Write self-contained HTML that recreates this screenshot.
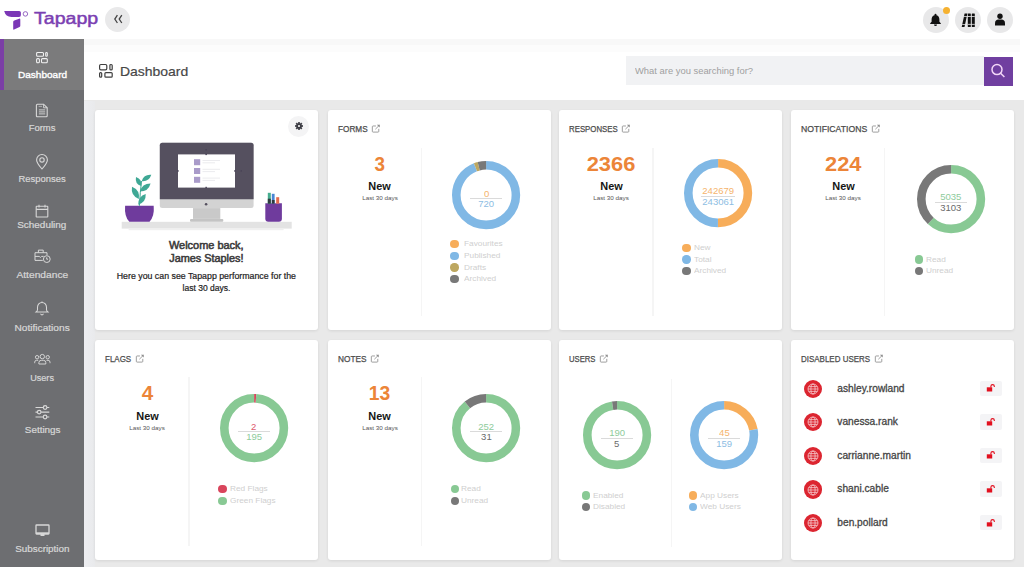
<!DOCTYPE html><html><head><meta charset="utf-8"><style>
html,body{margin:0;padding:0}
body{width:1024px;height:567px;overflow:hidden;position:relative;background:#e9e9e9;font-family:"Liberation Sans",sans-serif}
.t{position:absolute;white-space:nowrap}
.r{position:absolute}
svg.r{overflow:visible}
</style></head><body>
<div class="r" style="left:0.00px;top:0.00px;width:1024.00px;height:39.00px;background:#ffffff;"></div>
<div class="r" style="left:84.00px;top:39.00px;width:940.00px;height:61.00px;background:#ffffff;"></div>
<div class="r" style="left:84.00px;top:38.50px;width:936.00px;height:6.00px;background:#f8f8f8;"></div>
<div class="r" style="left:84.00px;top:44.50px;width:936.00px;height:7.00px;background:#fcfcfc;"></div>
<svg class="r" style="left:0px;top:0px" width="32" height="34" viewBox="0 0 32 34">
<path d="M4.2 10.9 H19.2 Q20.9 10.9 20.9 12.8 V15 Q20.9 16.9 19 16.9 H11.5 Q5.6 16.7 4.2 10.9 Z" fill="#7b37b6"/>
<path d="M14.3 20.6 L19.1 18.7 Q20.3 18.3 20.3 19.5 V25.8 Q20.3 26.7 19.5 27.1 L14.1 29.6 Q13.2 30 13.2 29 V22 Q13.2 21 14.3 20.6 Z" fill="#7b37b6"/>
<circle cx="25.4" cy="13.9" r="2.25" fill="none" stroke="#8a55bb" stroke-width="0.9"/>
</svg>
<div class="t" style="left:33.50px;top:10.66px;font-size:15.64px;line-height:15.64px;font-weight:400;color:#7b40b2;transform:scaleX(1.253);transform-origin:left 50%;-webkit-text-stroke:0.45px #7b40b2;">Tapapp</div>
<div class="r" style="left:105.2px;top:6.8px;width:24.8px;height:24.8px;border-radius:50%;background:#e9e9ea"></div>
<svg class="r" style="left:112px;top:13px" width="13" height="13" viewBox="0 0 13 13">
<path d="M5.4 2.2 L2.8 6.1 L5.4 10 M9.8 2.2 L7.2 6.1 L9.8 10" fill="none" stroke="#444" stroke-width="1.3"/></svg>
<div class="r" style="left:922.5px;top:6.7px;width:26px;height:26px;border-radius:50%;background:#e8e8e9"></div>
<div class="r" style="left:955.0px;top:6.7px;width:26px;height:26px;border-radius:50%;background:#e8e8e9"></div>
<div class="r" style="left:987.0px;top:6.7px;width:26px;height:26px;border-radius:50%;background:#e8e8e9"></div>
<svg class="r" style="left:929px;top:13px" width="13" height="13" viewBox="0 0 13 13">
<path d="M6.5 0.8 a1 1 0 0 1 1 1 v0.5 c2 0.5 2.9 2.2 2.9 4.2 v2.2 l1.4 1.6 v0.6 h-10.6 v-0.6 l1.4 -1.6 v-2.2 c0 -2 0.9 -3.7 2.9 -4.2 v-0.5 a1 1 0 0 1 1 -1z M5 11.6 h3 a1.5 1.5 0 0 1 -3 0z" fill="#111"/></svg>
<div class="r" style="left:942.5px;top:6.5px;width:7px;height:7px;border-radius:50%;background:#f5b130"></div>
<svg class="r" style="left:960.5px;top:12.8px" width="15" height="15" viewBox="0 0 15 15">
<path d="M3.6 0.5 h2.8 l-2.9 13.6 h-2.8z" fill="#111"/><rect x="6.8" y="0.5" width="3" height="13.6" rx="0.5" fill="#111"/><rect x="10.8" y="0.5" width="3" height="13.6" rx="0.5" fill="#111"/>
<rect x="6.8" y="3.0" width="7" height="0.8" fill="#e8e8e9"/><rect x="6.8" y="10.9" width="7" height="0.8" fill="#e8e8e9"/>
<path d="M1.3 10.9 h4.6 v0.8 h-4.8z M2.9 3 h4.6 v0.8 h-4.8z" fill="#e8e8e9"/></svg>
<svg class="r" style="left:994px;top:13px" width="12" height="13" viewBox="0 0 12 13">
<circle cx="6" cy="3.3" r="2.7" fill="#111"/><path d="M1 12.4 v-2.2 c0 -2.3 1.6 -3.6 3.3 -3.6 h3.4 c1.7 0 3.3 1.3 3.3 3.6 v2.2z" fill="#111"/></svg>
<div class="r" style="left:0.00px;top:39.00px;width:84.00px;height:528.00px;background:#6d6e71;"></div>
<div class="r" style="left:0.00px;top:39.00px;width:84.00px;height:51.00px;background:#7b7b7c;"></div>
<div class="r" style="left:0.00px;top:39.00px;width:4.00px;height:51.00px;background:#7b3fa6;"></div>
<div class="t" style="left:19.65px;top:70.60px;font-size:9.22px;line-height:9.22px;font-weight:400;color:#ffffff;transform:scaleX(1.089);transform-origin:center 50%;-webkit-text-stroke:0.35px #ffffff;">Dashboard</div>
<div class="t" style="left:29.14px;top:123.60px;font-size:9.22px;line-height:9.22px;font-weight:400;color:#d6d6d6;transform:scaleX(1.026);transform-origin:center 50%;-webkit-text-stroke:0.22px #d6d6d6;">Forms</div>
<div class="t" style="left:19.14px;top:175.10px;font-size:9.22px;line-height:9.22px;font-weight:400;color:#d6d6d6;transform:scaleX(1.021);transform-origin:center 50%;-webkit-text-stroke:0.22px #d6d6d6;">Responses</div>
<div class="t" style="left:19.40px;top:221.20px;font-size:9.22px;line-height:9.22px;font-weight:400;color:#d6d6d6;transform:scaleX(1.077);transform-origin:center 50%;-webkit-text-stroke:0.22px #d6d6d6;">Scheduling</div>
<div class="t" style="left:18.88px;top:271.00px;font-size:9.22px;line-height:9.22px;font-weight:400;color:#d6d6d6;transform:scaleX(1.109);transform-origin:center 50%;-webkit-text-stroke:0.22px #d6d6d6;">Attendance</div>
<div class="t" style="left:17.10px;top:324.20px;font-size:9.22px;line-height:9.22px;font-weight:400;color:#d6d6d6;transform:scaleX(1.099);transform-origin:center 50%;-webkit-text-stroke:0.22px #d6d6d6;">Notifications</div>
<div class="t" style="left:30.16px;top:374.20px;font-size:9.22px;line-height:9.22px;font-weight:400;color:#d6d6d6;transform:scaleX(0.989);transform-origin:center 50%;-webkit-text-stroke:0.22px #d6d6d6;">Users</div>
<div class="t" style="left:25.55px;top:425.70px;font-size:9.22px;line-height:9.22px;font-weight:400;color:#d6d6d6;transform:scaleX(1.072);transform-origin:center 50%;-webkit-text-stroke:0.22px #d6d6d6;">Settings</div>
<div class="t" style="left:16.84px;top:545.00px;font-size:9.22px;line-height:9.22px;font-weight:400;color:#d6d6d6;transform:scaleX(1.071);transform-origin:center 50%;-webkit-text-stroke:0.22px #d6d6d6;">Subscription</div>
<svg class="r" style="left:35px;top:51px" width="14" height="14" viewBox="0 0 14 14" fill="none" stroke="#f2f2f2" stroke-width="1.05">
<rect x="1.6" y="1.4" width="6.9" height="3.9" rx="1"/><rect x="10.7" y="1.4" width="1.6" height="3.9" rx="0.8"/>
<rect x="1.6" y="7.6" width="2.8" height="4.2" rx="1"/><rect x="6.5" y="7.6" width="5.8" height="4.2" rx="1"/></svg>
<svg class="r" style="left:35px;top:102.5px" width="14" height="15" viewBox="0 0 14 15" fill="none" stroke="#d8d8d8" stroke-width="1.1">
<path d="M2.4 1.2 H8.6 L12.2 4.8 V12.8 Q12.2 13.8 11.2 13.8 H2.4 Q1.4 13.8 1.4 12.8 V2.2 Q1.4 1.2 2.4 1.2z"/><path d="M8.6 1.4 V4.8 H12" stroke-width="0.9"/>
<path d="M3.9 6.9 H10.2 M3.9 8.9 H10.2 M3.9 10.9 H10.2" stroke-width="0.9"/><path d="M3.6 3.4 H7" stroke-width="0.6"/></svg>
<svg class="r" style="left:35px;top:153.5px" width="14" height="16" viewBox="0 0 14 16" fill="none" stroke="#d8d8d8" stroke-width="1.1">
<path d="M7 15 C4 11.5 1.6 8.6 1.6 5.9 A5.4 5.4 0 0 1 12.4 5.9 C12.4 8.6 10 11.5 7 15z"/><circle cx="7" cy="5.9" r="2.2"/></svg>
<svg class="r" style="left:35px;top:203.5px" width="14" height="14" viewBox="0 0 14 14" fill="none" stroke="#d8d8d8" stroke-width="1.1">
<rect x="1.2" y="2.2" width="11.6" height="10.8" rx="0.6"/><path d="M1.2 5.4 h11.6 M4 0.8 v2.8 M10 0.8 v2.8"/></svg>
<svg class="r" style="left:33.5px;top:248.8px" width="18" height="15" viewBox="0 0 18 15" fill="none" stroke="#d8d8d8" stroke-width="1">
<path d="M8.8 11.4 H1 V3.7 H13 V6"/><path d="M4.4 3.7 V1.1 H9.2 V3.7"/><path d="M1 7.4 H5.2 L6.4 8.4 L7.6 7.4 H9.6"/><circle cx="12.8" cy="10.1" r="3.4"/><path d="M12.7 8.4 V10.2 H14"/></svg>
<svg class="r" style="left:35px;top:300.6px" width="14" height="16" viewBox="0 0 14 16" fill="none" stroke="#d8d8d8" stroke-width="1.05">
<path d="M7 1.4 C4.3 1.4 2.5 3.5 2.5 6.3 V8.7 Q2.5 9.8 1.1 11 H12.9 Q11.5 9.8 11.5 8.7 V6.3 C11.5 3.5 9.7 1.4 7 1.4 Z"/><path d="M7 0.5 V1.4"/><path d="M5.5 12.7 Q7 15 8.5 12.7"/></svg>
<svg class="r" style="left:33.5px;top:353px" width="17" height="12" viewBox="0 0 17 12" fill="none" stroke="#d8d8d8" stroke-width="0.95">
<circle cx="8.3" cy="3.6" r="2.2"/><circle cx="3.1" cy="4.2" r="1.7"/><circle cx="13.7" cy="4.2" r="1.7"/>
<path d="M4.9 11 V9.6 Q4.9 7.3 7.3 7.3 H9.4 Q11.8 7.3 11.8 9.6 V11 Z"/><path d="M0.7 10.2 V9.2 Q0.7 7.3 2.6 7.3 H4.2 M16 10.2 V9.2 Q16 7.3 14.1 7.3 H12.5"/></svg>
<svg class="r" style="left:34.5px;top:404.5px" width="15" height="15" viewBox="0 0 15 15" fill="none" stroke="#d8d8d8" stroke-width="1.2">
<path d="M0.5 2.5 H8.2 M12 2.5 H14.3 M0.5 7.1 H2.3 M6.1 7.1 H14.3 M0.5 12 H8.2 M12 12 H14.3"/><circle cx="10.1" cy="2.5" r="1.8"/><circle cx="4.2" cy="7.1" r="1.8"/><circle cx="10.1" cy="12" r="1.8"/></svg>
<svg class="r" style="left:34.5px;top:523.5px" width="15" height="13" viewBox="0 0 15 13" fill="none">
<rect x="1" y="1" width="13" height="9" rx="0.5" stroke="#d8d8d8" stroke-width="1.3"/><rect x="5.5" y="10" width="4" height="2" fill="#d8d8d8"/><rect x="1" y="8.3" width="13" height="1.7" fill="#d8d8d8"/></svg>
<svg class="r" style="left:98px;top:63px" width="16" height="16" viewBox="0 0 16 16" fill="none" stroke="#3f3f3f" stroke-width="1.2">
<rect x="1.6" y="1.5" width="7.2" height="5.4" rx="1.3"/><rect x="11.9" y="1.5" width="2.3" height="5.4" rx="1"/>
<rect x="1.6" y="9.6" width="2.1" height="4.6" rx="0.9"/><rect x="6.9" y="9.6" width="7.3" height="4.6" rx="1"/></svg>
<div class="t" style="left:120.00px;top:65.30px;font-size:12.99px;line-height:12.99px;font-weight:400;color:#474747;transform:scaleX(1.075);transform-origin:left 50%;-webkit-text-stroke:0.2px #474747;">Dashboard</div>
<div class="r" style="left:625.80px;top:56.30px;width:358.70px;height:28.80px;background:#f1f2f4;"></div>
<div class="t" style="left:635.30px;top:66.87px;font-size:8.66px;line-height:8.66px;font-weight:400;color:#a0a0a0;transform:scaleX(1.085);transform-origin:left 50%;">What are you searching for?</div>
<div class="r" style="left:984.10px;top:56.80px;width:29.00px;height:28.80px;background:#703fa0;"></div>
<svg class="r" style="left:989px;top:62px" width="18" height="18" viewBox="0 0 18 18" fill="none" stroke="#f3d6f7" stroke-width="1.5">
<circle cx="8" cy="7.6" r="5"/><path d="M11.6 11.2 L15.4 15"/></svg>
<div class="r" style="left:84.00px;top:100.50px;width:11.00px;height:467.00px;background:linear-gradient(to right,#edeef1,#e9eaec);"></div>
<div class="r" style="left:95.0px;top:110.0px;width:223.3px;height:220.0px;background:#fff;border-radius:3px;box-shadow:0 1px 3px rgba(0,0,0,0.09)"></div>
<div class="r" style="left:327.5px;top:110.0px;width:223.3px;height:220.0px;background:#fff;border-radius:3px;box-shadow:0 1px 3px rgba(0,0,0,0.09)"></div>
<div class="r" style="left:559.0px;top:110.0px;width:223.3px;height:220.0px;background:#fff;border-radius:3px;box-shadow:0 1px 3px rgba(0,0,0,0.09)"></div>
<div class="r" style="left:790.8px;top:110.0px;width:223.3px;height:220.0px;background:#fff;border-radius:3px;box-shadow:0 1px 3px rgba(0,0,0,0.09)"></div>
<div class="r" style="left:95.0px;top:339.6px;width:223.3px;height:220.0px;background:#fff;border-radius:3px;box-shadow:0 1px 3px rgba(0,0,0,0.09)"></div>
<div class="r" style="left:327.5px;top:339.6px;width:223.3px;height:220.0px;background:#fff;border-radius:3px;box-shadow:0 1px 3px rgba(0,0,0,0.09)"></div>
<div class="r" style="left:559.0px;top:339.6px;width:223.3px;height:220.0px;background:#fff;border-radius:3px;box-shadow:0 1px 3px rgba(0,0,0,0.09)"></div>
<div class="r" style="left:790.8px;top:339.6px;width:223.3px;height:220.0px;background:#fff;border-radius:3px;box-shadow:0 1px 3px rgba(0,0,0,0.09)"></div>
<div class="r" style="left:288px;top:115.5px;width:21px;height:21px;border-radius:50%;background:#f4f4f5"></div>
<svg class="r" style="left:294.5px;top:122px" width="8" height="8" viewBox="-5 -5 10 10">
<g fill="#3a3a42"><circle r="3.2"/><rect x="-1.1" y="-4.9" width="2.2" height="2.4" transform="rotate(0)"/><rect x="-1.1" y="-4.9" width="2.2" height="2.4" transform="rotate(45)"/><rect x="-1.1" y="-4.9" width="2.2" height="2.4" transform="rotate(90)"/><rect x="-1.1" y="-4.9" width="2.2" height="2.4" transform="rotate(135)"/><rect x="-1.1" y="-4.9" width="2.2" height="2.4" transform="rotate(180)"/><rect x="-1.1" y="-4.9" width="2.2" height="2.4" transform="rotate(225)"/><rect x="-1.1" y="-4.9" width="2.2" height="2.4" transform="rotate(270)"/><rect x="-1.1" y="-4.9" width="2.2" height="2.4" transform="rotate(315)"/></g><circle r="1.4" fill="#f4f4f5"/></svg>
<svg class="r" style="left:110px;top:130px" width="200" height="110" viewBox="0 0 200 110">
<rect x="11.7" y="91.8" width="170" height="6.8" fill="#e3e3e3"/>
<rect x="18.6" y="98.6" width="155" height="1.6" fill="#f0f0f0"/>
<rect x="49.8" y="12.7" width="93.8" height="65.4" rx="2.5" fill="#d3d3d3"/>
<path d="M52.3 12.7 H141.1 A2.5 2.5 0 0 1 143.6 15.2 V69.3 H49.8 V15.2 A2.5 2.5 0 0 1 52.3 12.7z" fill="#55505f"/>
<circle cx="96.1" cy="74.2" r="1.3" fill="#55505f"/>
<rect x="83" y="78.1" width="27.3" height="10.8" fill="#c9c9c9"/>
<rect x="80" y="88.9" width="33.3" height="2.9" rx="1" fill="#c4c4c4"/>
<rect x="68" y="24.4" width="57" height="33.2" fill="#ffffff"/>
<rect x="84" y="29.2" width="6.2" height="6" fill="#a99bc9"/>
<rect x="84" y="38" width="6.2" height="6" fill="#a99bc9"/>
<rect x="84" y="46.8" width="6.2" height="6" fill="#a99bc9"/>
<path d="M92.5 30.5 H110 M92.5 32.8 H105 M92.5 39.3 H110 M92.5 41.6 H105 M92.5 48.1 H110 M92.5 50.4 H105" stroke="#e6e6ea" stroke-width="0.8"/>
<g fill="#4a4458"><rect x="95.4" y="23.6" width="1.5" height="1.5"/><rect x="95.4" y="56.8" width="1.5" height="1.5"/><rect x="67.2" y="40.2" width="1.5" height="1.5"/><rect x="124.2" y="40.2" width="1.5" height="1.5"/><rect x="95.4" y="19" width="1.5" height="1.5"/><rect x="130.5" y="40.2" width="1.5" height="1.5"/></g>
<path d="M15.1 75.8 H43.7 Q44.6 86.5 39.5 91.8 H19.3 Q14.2 86.5 15.1 75.8 Z" fill="#6f3b9d"/>
<path d="M29.4 75.8 Q30.2 62 31.5 51" stroke="#3fa895" stroke-width="1" fill="none"/>
<g fill="#3fa895">
<path transform="translate(36.5 48) rotate(-33)" d="M-5.75 0 Q0 -4.60 5.75 0 Q0 4.60 -5.75 0Z"/>
<path transform="translate(28.6 51.5) rotate(60)" d="M-5.25 0 Q0 -4.60 5.25 0 Q0 4.60 -5.25 0Z"/>
<path transform="translate(35.2 57.5) rotate(-37)" d="M-6.75 0 Q0 -5.20 6.75 0 Q0 5.20 -6.75 0Z"/>
<path transform="translate(25.4 62.8) rotate(61)" d="M-7.00 0 Q0 -5.60 7.00 0 Q0 5.60 -7.00 0Z"/>
<path transform="translate(32 69.4) rotate(-55)" d="M-6.50 0 Q0 -5.00 6.50 0 Q0 5.00 -6.50 0Z"/>
</g>
<path d="M155.3 73.2 H171.9 V88.8 Q171.9 91.8 168.9 91.8 H158.3 Q155.3 91.8 155.3 88.8z" fill="#6f3b9d"/>
<rect x="157.8" y="62.8" width="3" height="11" fill="#46ad8f"/>
<rect x="161.8" y="63.8" width="2.8" height="10" fill="#4a86d4"/>
<rect x="166.2" y="67.2" width="3" height="6.5" fill="#e46a4e"/>
<rect x="157.8" y="68.7" width="3" height="5" fill="#2e3a3f"/>
<rect x="161.8" y="70" width="2.8" height="3.7" fill="#2e3a3f"/>
</svg>
<div class="t" style="left:172.22px;top:240.69px;font-size:10.06px;line-height:10.06px;font-weight:400;color:#3a3a3a;transform:scaleX(1.091);transform-origin:center 50%;-webkit-text-stroke:0.5px #3a3a3a;">Welcome back,</div>
<div class="t" style="left:172.13px;top:254.49px;font-size:10.06px;line-height:10.06px;font-weight:400;color:#3a3a3a;transform:scaleX(1.081);transform-origin:center 50%;-webkit-text-stroke:0.5px #3a3a3a;">James Staples!</div>
<div class="t" style="left:121.10px;top:271.91px;font-size:8.38px;line-height:8.38px;font-weight:400;color:#1e1e1e;transform:scaleX(1.050);transform-origin:center 50%;-webkit-text-stroke:0.2px #1e1e1e;">Here you can see Tapapp performance for the</div>
<div class="t" style="left:183.08px;top:283.51px;font-size:8.38px;line-height:8.38px;font-weight:400;color:#1e1e1e;transform:scaleX(1.018);transform-origin:center 50%;-webkit-text-stroke:0.2px #1e1e1e;">last 30 days.</div>
<div class="t" style="left:337.50px;top:124.65px;font-size:8.80px;line-height:8.80px;font-weight:400;color:#4c4c4c;transform:scaleX(0.932);transform-origin:left 50%;-webkit-text-stroke:0.25px #4c4c4c;">FORMS</div>
<svg class="r" style="left:370.70px;top:123.70px" width="9.5" height="9" viewBox="0 0 10 10" preserveAspectRatio="none" fill="none" stroke="#8c8c8c" stroke-width="0.9">
<path d="M5.2 2.2 H2.2 Q1.4 2.2 1.4 3 V8.2 Q1.4 9 2.2 9 H7.4 Q8.2 9 8.2 8.2 V5.4"/><path d="M4.6 5.8 L8.6 1.6"/><path d="M6.2 0.9 H9.2 V3.9z" fill="#8c8c8c" stroke="none"/></svg>
<div class="t" style="left:374.15px;top:153.50px;font-size:20.67px;line-height:20.67px;font-weight:700;color:#ec8538;transform:scaleX(0.913);transform-origin:center 50%;">3</div>
<div class="t" style="left:369.27px;top:182.25px;font-size:10.34px;line-height:10.34px;font-weight:700;color:#161616;transform:scaleX(1.059);transform-origin:center 50%;">New</div>
<div class="t" style="left:362.87px;top:195.12px;font-size:6.01px;line-height:6.01px;font-weight:400;color:#555;transform:scaleX(1.048);transform-origin:center 50%;">Last 30 days</div>
<div class="r" style="left:420.80px;top:147.60px;width:1.40px;height:168.50px;background:#f5f5f5;"></div>
<svg class="r" style="left:451.10px;top:160.10px" width="70.20" height="70.20" viewBox="-35.10 -35.10 70.20 70.20"><circle r="29.800" fill="none" stroke="#80b8e5" stroke-width="8.6" stroke-dasharray="176.057 187.239" stroke-dashoffset="0.000" transform="rotate(-90)"/><circle r="29.800" fill="none" stroke="#bda760" stroke-width="8.6" stroke-dasharray="3.381 187.239" stroke-dashoffset="-176.057" transform="rotate(-90)"/><circle r="29.800" fill="none" stroke="#787878" stroke-width="8.6" stroke-dasharray="7.802 187.239" stroke-dashoffset="-179.437" transform="rotate(-90)"/></svg>
<div class="t" style="left:483.50px;top:188.58px;font-size:9.71px;line-height:9.71px;font-weight:400;color:#f5b46c;transform:scaleX(0.982);transform-origin:center 50%;">0</div>
<div class="r" style="left:470.20px;top:198.20px;width:32.00px;height:0.80px;background:#dadada;"></div>
<div class="t" style="left:478.10px;top:199.28px;font-size:9.71px;line-height:9.71px;font-weight:400;color:#8dbde3;transform:scaleX(0.982);transform-origin:center 50%;">720</div>
<div class="r" style="left:450.30px;top:240.00px;width:8.4px;height:8.4px;border-radius:50%;background:#f7ad5a"></div>
<div class="t" style="left:464.00px;top:240.38px;font-size:7.82px;line-height:7.82px;font-weight:400;color:#cfcfcf;transform:scaleX(1.060);transform-origin:left 50%;">Favourites</div>
<div class="r" style="left:450.30px;top:251.60px;width:8.4px;height:8.4px;border-radius:50%;background:#80b8e5"></div>
<div class="t" style="left:464.00px;top:251.98px;font-size:7.82px;line-height:7.82px;font-weight:400;color:#cfcfcf;transform:scaleX(1.060);transform-origin:left 50%;">Published</div>
<div class="r" style="left:450.30px;top:263.20px;width:8.4px;height:8.4px;border-radius:50%;background:#bda760"></div>
<div class="t" style="left:464.00px;top:263.58px;font-size:7.82px;line-height:7.82px;font-weight:400;color:#cfcfcf;transform:scaleX(1.060);transform-origin:left 50%;">Drafts</div>
<div class="r" style="left:450.30px;top:274.80px;width:8.4px;height:8.4px;border-radius:50%;background:#787878"></div>
<div class="t" style="left:464.00px;top:275.18px;font-size:7.82px;line-height:7.82px;font-weight:400;color:#cfcfcf;transform:scaleX(1.060);transform-origin:left 50%;">Archived</div>
<div class="t" style="left:569.00px;top:124.65px;font-size:8.80px;line-height:8.80px;font-weight:400;color:#4c4c4c;transform:scaleX(0.891);transform-origin:left 50%;-webkit-text-stroke:0.25px #4c4c4c;">RESPONSES</div>
<svg class="r" style="left:621.40px;top:123.70px" width="9.5" height="9" viewBox="0 0 10 10" preserveAspectRatio="none" fill="none" stroke="#8c8c8c" stroke-width="0.9">
<path d="M5.2 2.2 H2.2 Q1.4 2.2 1.4 3 V8.2 Q1.4 9 2.2 9 H7.4 Q8.2 9 8.2 8.2 V5.4"/><path d="M4.6 5.8 L8.6 1.6"/><path d="M6.2 0.9 H9.2 V3.9z" fill="#8c8c8c" stroke="none"/></svg>
<div class="t" style="left:588.41px;top:153.50px;font-size:20.67px;line-height:20.67px;font-weight:700;color:#ec8538;transform:scaleX(1.059);transform-origin:center 50%;">2366</div>
<div class="t" style="left:600.77px;top:182.25px;font-size:10.34px;line-height:10.34px;font-weight:700;color:#161616;transform:scaleX(1.059);transform-origin:center 50%;">New</div>
<div class="t" style="left:594.37px;top:195.12px;font-size:6.01px;line-height:6.01px;font-weight:400;color:#555;transform:scaleX(1.048);transform-origin:center 50%;">Last 30 days</div>
<div class="r" style="left:652.30px;top:147.60px;width:1.40px;height:168.50px;background:#f5f5f5;"></div>
<svg class="r" style="left:683.10px;top:157.60px" width="70.20" height="70.20" viewBox="-35.10 -35.10 70.20 70.20"><circle r="29.800" fill="none" stroke="#f7ad5a" stroke-width="8.6" stroke-dasharray="93.619 187.239" stroke-dashoffset="0.000" transform="rotate(-90)"/><circle r="29.800" fill="none" stroke="#80b8e5" stroke-width="8.6" stroke-dasharray="93.619 187.239" stroke-dashoffset="-93.619" transform="rotate(-90)"/></svg>
<div class="t" style="left:702.01px;top:186.08px;font-size:9.71px;line-height:9.71px;font-weight:400;color:#f5b46c;transform:scaleX(0.982);transform-origin:center 50%;">242679</div>
<div class="r" style="left:701.20px;top:195.70px;width:34.00px;height:0.80px;background:#dadada;"></div>
<div class="t" style="left:702.01px;top:196.78px;font-size:9.71px;line-height:9.71px;font-weight:400;color:#8dbde3;transform:scaleX(0.982);transform-origin:center 50%;">243061</div>
<div class="r" style="left:682.40px;top:243.60px;width:8.4px;height:8.4px;border-radius:50%;background:#f7ad5a"></div>
<div class="t" style="left:694.10px;top:243.98px;font-size:7.82px;line-height:7.82px;font-weight:400;color:#cfcfcf;transform:scaleX(1.060);transform-origin:left 50%;">New</div>
<div class="r" style="left:682.40px;top:255.20px;width:8.4px;height:8.4px;border-radius:50%;background:#80b8e5"></div>
<div class="t" style="left:694.10px;top:255.58px;font-size:7.82px;line-height:7.82px;font-weight:400;color:#cfcfcf;transform:scaleX(1.060);transform-origin:left 50%;">Total</div>
<div class="r" style="left:682.40px;top:266.80px;width:8.4px;height:8.4px;border-radius:50%;background:#787878"></div>
<div class="t" style="left:694.10px;top:267.18px;font-size:7.82px;line-height:7.82px;font-weight:400;color:#cfcfcf;transform:scaleX(1.060);transform-origin:left 50%;">Archived</div>
<div class="t" style="left:800.80px;top:124.65px;font-size:8.80px;line-height:8.80px;font-weight:400;color:#4c4c4c;transform:scaleX(0.984);transform-origin:left 50%;-webkit-text-stroke:0.25px #4c4c4c;">NOTIFICATIONS</div>
<svg class="r" style="left:870.60px;top:123.70px" width="9.5" height="9" viewBox="0 0 10 10" preserveAspectRatio="none" fill="none" stroke="#8c8c8c" stroke-width="0.9">
<path d="M5.2 2.2 H2.2 Q1.4 2.2 1.4 3 V8.2 Q1.4 9 2.2 9 H7.4 Q8.2 9 8.2 8.2 V5.4"/><path d="M4.6 5.8 L8.6 1.6"/><path d="M6.2 0.9 H9.2 V3.9z" fill="#8c8c8c" stroke="none"/></svg>
<div class="t" style="left:825.96px;top:153.50px;font-size:20.67px;line-height:20.67px;font-weight:700;color:#ec8538;transform:scaleX(1.058);transform-origin:center 50%;">224</div>
<div class="t" style="left:832.57px;top:182.25px;font-size:10.34px;line-height:10.34px;font-weight:700;color:#161616;transform:scaleX(1.059);transform-origin:center 50%;">New</div>
<div class="t" style="left:826.17px;top:195.12px;font-size:6.01px;line-height:6.01px;font-weight:400;color:#555;transform:scaleX(1.048);transform-origin:center 50%;">Last 30 days</div>
<div class="r" style="left:884.10px;top:147.60px;width:1.40px;height:168.50px;background:#f5f5f5;"></div>
<svg class="r" style="left:915.50px;top:163.50px" width="70.20" height="70.20" viewBox="-35.10 -35.10 70.20 70.20"><circle r="29.800" fill="none" stroke="#88c994" stroke-width="8.6" stroke-dasharray="115.828 187.239" stroke-dashoffset="0.000" transform="rotate(-90)"/><circle r="29.800" fill="none" stroke="#787878" stroke-width="8.6" stroke-dasharray="71.411 187.239" stroke-dashoffset="-115.828" transform="rotate(-90)"/></svg>
<div class="t" style="left:939.80px;top:191.98px;font-size:9.71px;line-height:9.71px;font-weight:400;color:#8ecb9b;transform:scaleX(0.982);transform-origin:center 50%;">5035</div>
<div class="r" style="left:934.60px;top:201.60px;width:32.00px;height:0.80px;background:#dadada;"></div>
<div class="t" style="left:939.80px;top:202.68px;font-size:9.71px;line-height:9.71px;font-weight:400;color:#6a6a6a;transform:scaleX(0.982);transform-origin:center 50%;">3103</div>
<div class="r" style="left:914.60px;top:255.20px;width:8.4px;height:8.4px;border-radius:50%;background:#88c994"></div>
<div class="t" style="left:926.30px;top:255.58px;font-size:7.82px;line-height:7.82px;font-weight:400;color:#cfcfcf;transform:scaleX(1.060);transform-origin:left 50%;">Read</div>
<div class="r" style="left:914.60px;top:266.80px;width:8.4px;height:8.4px;border-radius:50%;background:#787878"></div>
<div class="t" style="left:926.30px;top:267.18px;font-size:7.82px;line-height:7.82px;font-weight:400;color:#cfcfcf;transform:scaleX(1.060);transform-origin:left 50%;">Unread</div>
<div class="t" style="left:105.00px;top:354.65px;font-size:8.80px;line-height:8.80px;font-weight:400;color:#4c4c4c;transform:scaleX(0.908);transform-origin:left 50%;-webkit-text-stroke:0.25px #4c4c4c;">FLAGS</div>
<svg class="r" style="left:134.80px;top:353.70px" width="9.5" height="9" viewBox="0 0 10 10" preserveAspectRatio="none" fill="none" stroke="#8c8c8c" stroke-width="0.9">
<path d="M5.2 2.2 H2.2 Q1.4 2.2 1.4 3 V8.2 Q1.4 9 2.2 9 H7.4 Q8.2 9 8.2 8.2 V5.4"/><path d="M4.6 5.8 L8.6 1.6"/><path d="M6.2 0.9 H9.2 V3.9z" fill="#8c8c8c" stroke="none"/></svg>
<div class="t" style="left:141.65px;top:383.10px;font-size:20.67px;line-height:20.67px;font-weight:700;color:#ec8538;">4</div>
<div class="t" style="left:136.77px;top:411.85px;font-size:10.34px;line-height:10.34px;font-weight:700;color:#161616;transform:scaleX(1.059);transform-origin:center 50%;">New</div>
<div class="t" style="left:130.37px;top:424.72px;font-size:6.01px;line-height:6.01px;font-weight:400;color:#555;transform:scaleX(1.048);transform-origin:center 50%;">Last 30 days</div>
<div class="r" style="left:188.30px;top:377.20px;width:1.40px;height:168.50px;background:#f5f5f5;"></div>
<svg class="r" style="left:219.00px;top:393.30px" width="70.20" height="70.20" viewBox="-35.10 -35.10 70.20 70.20"><circle r="29.800" fill="none" stroke="#d9455c" stroke-width="8.6" stroke-dasharray="1.924 187.239" stroke-dashoffset="0.000" transform="rotate(-90)"/><circle r="29.800" fill="none" stroke="#88c994" stroke-width="8.6" stroke-dasharray="185.315 187.239" stroke-dashoffset="-1.924" transform="rotate(-90)"/></svg>
<div class="t" style="left:251.40px;top:421.78px;font-size:9.71px;line-height:9.71px;font-weight:400;color:#dd5a6e;transform:scaleX(0.982);transform-origin:center 50%;">2</div>
<div class="r" style="left:238.10px;top:431.40px;width:32.00px;height:0.80px;background:#dadada;"></div>
<div class="t" style="left:246.00px;top:432.48px;font-size:9.71px;line-height:9.71px;font-weight:400;color:#8ecb9b;transform:scaleX(0.982);transform-origin:center 50%;">195</div>
<div class="r" style="left:218.30px;top:485.00px;width:8.4px;height:8.4px;border-radius:50%;background:#d9455c"></div>
<div class="t" style="left:229.50px;top:485.38px;font-size:7.82px;line-height:7.82px;font-weight:400;color:#cfcfcf;transform:scaleX(1.060);transform-origin:left 50%;">Red Flags</div>
<div class="r" style="left:218.30px;top:496.60px;width:8.4px;height:8.4px;border-radius:50%;background:#88c994"></div>
<div class="t" style="left:229.50px;top:496.98px;font-size:7.82px;line-height:7.82px;font-weight:400;color:#cfcfcf;transform:scaleX(1.060);transform-origin:left 50%;">Green Flags</div>
<div class="t" style="left:337.50px;top:354.65px;font-size:8.80px;line-height:8.80px;font-weight:400;color:#4c4c4c;transform:scaleX(0.940);transform-origin:left 50%;-webkit-text-stroke:0.25px #4c4c4c;">NOTES</div>
<svg class="r" style="left:369.60px;top:353.70px" width="9.5" height="9" viewBox="0 0 10 10" preserveAspectRatio="none" fill="none" stroke="#8c8c8c" stroke-width="0.9">
<path d="M5.2 2.2 H2.2 Q1.4 2.2 1.4 3 V8.2 Q1.4 9 2.2 9 H7.4 Q8.2 9 8.2 8.2 V5.4"/><path d="M4.6 5.8 L8.6 1.6"/><path d="M6.2 0.9 H9.2 V3.9z" fill="#8c8c8c" stroke="none"/></svg>
<div class="t" style="left:368.41px;top:383.10px;font-size:20.67px;line-height:20.67px;font-weight:700;color:#ec8538;transform:scaleX(0.935);transform-origin:center 50%;">13</div>
<div class="t" style="left:369.27px;top:411.85px;font-size:10.34px;line-height:10.34px;font-weight:700;color:#161616;transform:scaleX(1.059);transform-origin:center 50%;">New</div>
<div class="t" style="left:362.87px;top:424.72px;font-size:6.01px;line-height:6.01px;font-weight:400;color:#555;transform:scaleX(1.048);transform-origin:center 50%;">Last 30 days</div>
<div class="r" style="left:420.80px;top:377.20px;width:1.40px;height:168.50px;background:#f5f5f5;"></div>
<svg class="r" style="left:451.10px;top:393.10px" width="70.20" height="70.20" viewBox="-35.10 -35.10 70.20 70.20"><circle r="29.800" fill="none" stroke="#88c994" stroke-width="8.6" stroke-dasharray="166.747 187.239" stroke-dashoffset="0.000" transform="rotate(-90)"/><circle r="29.800" fill="none" stroke="#787878" stroke-width="8.6" stroke-dasharray="20.492 187.239" stroke-dashoffset="-166.747" transform="rotate(-90)"/></svg>
<div class="t" style="left:478.10px;top:421.58px;font-size:9.71px;line-height:9.71px;font-weight:400;color:#8ecb9b;transform:scaleX(0.982);transform-origin:center 50%;">252</div>
<div class="r" style="left:470.20px;top:431.20px;width:32.00px;height:0.80px;background:#dadada;"></div>
<div class="t" style="left:480.80px;top:432.28px;font-size:9.71px;line-height:9.71px;font-weight:400;color:#6a6a6a;transform:scaleX(0.982);transform-origin:center 50%;">31</div>
<div class="r" style="left:450.70px;top:485.00px;width:8.4px;height:8.4px;border-radius:50%;background:#88c994"></div>
<div class="t" style="left:461.40px;top:485.38px;font-size:7.82px;line-height:7.82px;font-weight:400;color:#cfcfcf;transform:scaleX(1.060);transform-origin:left 50%;">Read</div>
<div class="r" style="left:450.70px;top:496.60px;width:8.4px;height:8.4px;border-radius:50%;background:#787878"></div>
<div class="t" style="left:461.40px;top:496.98px;font-size:7.82px;line-height:7.82px;font-weight:400;color:#cfcfcf;transform:scaleX(1.060);transform-origin:left 50%;">Unread</div>
<div class="t" style="left:569.00px;top:354.65px;font-size:8.80px;line-height:8.80px;font-weight:400;color:#4c4c4c;transform:scaleX(0.874);transform-origin:left 50%;-webkit-text-stroke:0.25px #4c4c4c;">USERS</div>
<svg class="r" style="left:599.10px;top:353.70px" width="9.5" height="9" viewBox="0 0 10 10" preserveAspectRatio="none" fill="none" stroke="#8c8c8c" stroke-width="0.9">
<path d="M5.2 2.2 H2.2 Q1.4 2.2 1.4 3 V8.2 Q1.4 9 2.2 9 H7.4 Q8.2 9 8.2 8.2 V5.4"/><path d="M4.6 5.8 L8.6 1.6"/><path d="M6.2 0.9 H9.2 V3.9z" fill="#8c8c8c" stroke="none"/></svg>
<div class="r" style="left:670.50px;top:379.00px;width:1.40px;height:168.00px;background:#f5f5f5;"></div>
<svg class="r" style="left:581.90px;top:399.60px" width="70.20" height="70.20" viewBox="-35.10 -35.10 70.20 70.20"><circle r="29.800" fill="none" stroke="#88c994" stroke-width="8.6" stroke-dasharray="182.454 187.239" stroke-dashoffset="0.000" transform="rotate(-90)"/><circle r="29.800" fill="none" stroke="#787878" stroke-width="8.6" stroke-dasharray="4.785 187.239" stroke-dashoffset="-182.454" transform="rotate(-90)"/></svg>
<div class="t" style="left:608.90px;top:428.08px;font-size:9.71px;line-height:9.71px;font-weight:400;color:#8ecb9b;transform:scaleX(0.982);transform-origin:center 50%;">190</div>
<div class="r" style="left:601.00px;top:437.70px;width:32.00px;height:0.80px;background:#dadada;"></div>
<div class="t" style="left:614.30px;top:438.78px;font-size:9.71px;line-height:9.71px;font-weight:400;color:#6a6a6a;transform:scaleX(0.982);transform-origin:center 50%;">5</div>
<svg class="r" style="left:689.00px;top:399.60px" width="70.20" height="70.20" viewBox="-35.10 -35.10 70.20 70.20"><circle r="29.800" fill="none" stroke="#f7ad5a" stroke-width="8.6" stroke-dasharray="41.297 187.239" stroke-dashoffset="0.000" transform="rotate(-90)"/><circle r="29.800" fill="none" stroke="#80b8e5" stroke-width="8.6" stroke-dasharray="145.942 187.239" stroke-dashoffset="-41.297" transform="rotate(-90)"/></svg>
<div class="t" style="left:718.70px;top:428.08px;font-size:9.71px;line-height:9.71px;font-weight:400;color:#f5b46c;transform:scaleX(0.982);transform-origin:center 50%;">45</div>
<div class="r" style="left:708.10px;top:437.70px;width:32.00px;height:0.80px;background:#dadada;"></div>
<div class="t" style="left:716.00px;top:438.78px;font-size:9.71px;line-height:9.71px;font-weight:400;color:#8dbde3;transform:scaleX(0.982);transform-origin:center 50%;">159</div>
<div class="r" style="left:581.80px;top:491.30px;width:8.4px;height:8.4px;border-radius:50%;background:#88c994"></div>
<div class="t" style="left:592.50px;top:491.68px;font-size:7.82px;line-height:7.82px;font-weight:400;color:#cfcfcf;transform:scaleX(1.060);transform-origin:left 50%;">Enabled</div>
<div class="r" style="left:581.80px;top:502.90px;width:8.4px;height:8.4px;border-radius:50%;background:#787878"></div>
<div class="t" style="left:592.50px;top:503.28px;font-size:7.82px;line-height:7.82px;font-weight:400;color:#cfcfcf;transform:scaleX(1.060);transform-origin:left 50%;">Disabled</div>
<div class="r" style="left:688.50px;top:491.30px;width:8.4px;height:8.4px;border-radius:50%;background:#f7ad5a"></div>
<div class="t" style="left:699.60px;top:491.68px;font-size:7.82px;line-height:7.82px;font-weight:400;color:#cfcfcf;transform:scaleX(1.060);transform-origin:left 50%;">App Users</div>
<div class="r" style="left:688.50px;top:502.90px;width:8.4px;height:8.4px;border-radius:50%;background:#80b8e5"></div>
<div class="t" style="left:699.60px;top:503.28px;font-size:7.82px;line-height:7.82px;font-weight:400;color:#cfcfcf;transform:scaleX(1.060);transform-origin:left 50%;">Web Users</div>
<div class="t" style="left:800.80px;top:354.65px;font-size:8.80px;line-height:8.80px;font-weight:400;color:#4c4c4c;transform:scaleX(0.906);transform-origin:left 50%;-webkit-text-stroke:0.25px #4c4c4c;">DISABLED USERS</div>
<svg class="r" style="left:873.50px;top:353.70px" width="9.5" height="9" viewBox="0 0 10 10" preserveAspectRatio="none" fill="none" stroke="#8c8c8c" stroke-width="0.9">
<path d="M5.2 2.2 H2.2 Q1.4 2.2 1.4 3 V8.2 Q1.4 9 2.2 9 H7.4 Q8.2 9 8.2 8.2 V5.4"/><path d="M4.6 5.8 L8.6 1.6"/><path d="M6.2 0.9 H9.2 V3.9z" fill="#8c8c8c" stroke="none"/></svg>
<div class="r" style="left:804.10px;top:379.50px;width:18.4px;height:18.4px;border-radius:50%;background:#dc2530"></div>
<svg class="r" style="left:807.30px;top:382.70px" width="12" height="12" viewBox="0 0 12 12" fill="none" stroke="#f7d0d3" stroke-width="0.75">
<circle cx="6" cy="6" r="5"/><ellipse cx="6" cy="6" rx="2.1" ry="5"/><path d="M1 6 H11 M1.8 3.6 H10.2 M1.8 8.4 H10.2"/></svg>
<div class="t" style="left:837.30px;top:383.67px;font-size:10.20px;line-height:10.20px;font-weight:400;color:#454545;-webkit-text-stroke:0.3px #454545;">ashley.rowland</div>
<div class="r" style="left:979.8px;top:380.50px;width:22.2px;height:15.5px;border-radius:2px;background:#f4f4f6"></div>
<svg class="r" style="left:985.50px;top:384.10px" width="9" height="8" viewBox="0 0 9 8">
<rect x="0.8" y="3.3" width="5.4" height="4.2" fill="#e2101f"/><path d="M4.9 3.5 V2.3 A1.7 1.7 0 0 1 8.3 2.3 V3" fill="none" stroke="#e2101f" stroke-width="1.1"/></svg>
<div class="r" style="left:804.10px;top:413.10px;width:18.4px;height:18.4px;border-radius:50%;background:#dc2530"></div>
<svg class="r" style="left:807.30px;top:416.30px" width="12" height="12" viewBox="0 0 12 12" fill="none" stroke="#f7d0d3" stroke-width="0.75">
<circle cx="6" cy="6" r="5"/><ellipse cx="6" cy="6" rx="2.1" ry="5"/><path d="M1 6 H11 M1.8 3.6 H10.2 M1.8 8.4 H10.2"/></svg>
<div class="t" style="left:837.30px;top:417.27px;font-size:10.20px;line-height:10.20px;font-weight:400;color:#454545;-webkit-text-stroke:0.3px #454545;">vanessa.rank</div>
<div class="r" style="left:979.8px;top:414.10px;width:22.2px;height:15.5px;border-radius:2px;background:#f4f4f6"></div>
<svg class="r" style="left:985.50px;top:417.70px" width="9" height="8" viewBox="0 0 9 8">
<rect x="0.8" y="3.3" width="5.4" height="4.2" fill="#e2101f"/><path d="M4.9 3.5 V2.3 A1.7 1.7 0 0 1 8.3 2.3 V3" fill="none" stroke="#e2101f" stroke-width="1.1"/></svg>
<div class="r" style="left:804.10px;top:446.70px;width:18.4px;height:18.4px;border-radius:50%;background:#dc2530"></div>
<svg class="r" style="left:807.30px;top:449.90px" width="12" height="12" viewBox="0 0 12 12" fill="none" stroke="#f7d0d3" stroke-width="0.75">
<circle cx="6" cy="6" r="5"/><ellipse cx="6" cy="6" rx="2.1" ry="5"/><path d="M1 6 H11 M1.8 3.6 H10.2 M1.8 8.4 H10.2"/></svg>
<div class="t" style="left:837.30px;top:450.87px;font-size:10.20px;line-height:10.20px;font-weight:400;color:#454545;-webkit-text-stroke:0.3px #454545;">carrianne.martin</div>
<div class="r" style="left:979.8px;top:447.70px;width:22.2px;height:15.5px;border-radius:2px;background:#f4f4f6"></div>
<svg class="r" style="left:985.50px;top:451.30px" width="9" height="8" viewBox="0 0 9 8">
<rect x="0.8" y="3.3" width="5.4" height="4.2" fill="#e2101f"/><path d="M4.9 3.5 V2.3 A1.7 1.7 0 0 1 8.3 2.3 V3" fill="none" stroke="#e2101f" stroke-width="1.1"/></svg>
<div class="r" style="left:804.10px;top:480.30px;width:18.4px;height:18.4px;border-radius:50%;background:#dc2530"></div>
<svg class="r" style="left:807.30px;top:483.50px" width="12" height="12" viewBox="0 0 12 12" fill="none" stroke="#f7d0d3" stroke-width="0.75">
<circle cx="6" cy="6" r="5"/><ellipse cx="6" cy="6" rx="2.1" ry="5"/><path d="M1 6 H11 M1.8 3.6 H10.2 M1.8 8.4 H10.2"/></svg>
<div class="t" style="left:837.30px;top:484.47px;font-size:10.20px;line-height:10.20px;font-weight:400;color:#454545;-webkit-text-stroke:0.3px #454545;">shani.cable</div>
<div class="r" style="left:979.8px;top:481.30px;width:22.2px;height:15.5px;border-radius:2px;background:#f4f4f6"></div>
<svg class="r" style="left:985.50px;top:484.90px" width="9" height="8" viewBox="0 0 9 8">
<rect x="0.8" y="3.3" width="5.4" height="4.2" fill="#e2101f"/><path d="M4.9 3.5 V2.3 A1.7 1.7 0 0 1 8.3 2.3 V3" fill="none" stroke="#e2101f" stroke-width="1.1"/></svg>
<div class="r" style="left:804.10px;top:513.90px;width:18.4px;height:18.4px;border-radius:50%;background:#dc2530"></div>
<svg class="r" style="left:807.30px;top:517.10px" width="12" height="12" viewBox="0 0 12 12" fill="none" stroke="#f7d0d3" stroke-width="0.75">
<circle cx="6" cy="6" r="5"/><ellipse cx="6" cy="6" rx="2.1" ry="5"/><path d="M1 6 H11 M1.8 3.6 H10.2 M1.8 8.4 H10.2"/></svg>
<div class="t" style="left:837.30px;top:518.07px;font-size:10.20px;line-height:10.20px;font-weight:400;color:#454545;-webkit-text-stroke:0.3px #454545;">ben.pollard</div>
<div class="r" style="left:979.8px;top:514.90px;width:22.2px;height:15.5px;border-radius:2px;background:#f4f4f6"></div>
<svg class="r" style="left:985.50px;top:518.50px" width="9" height="8" viewBox="0 0 9 8">
<rect x="0.8" y="3.3" width="5.4" height="4.2" fill="#e2101f"/><path d="M4.9 3.5 V2.3 A1.7 1.7 0 0 1 8.3 2.3 V3" fill="none" stroke="#e2101f" stroke-width="1.1"/></svg>
</body></html>
